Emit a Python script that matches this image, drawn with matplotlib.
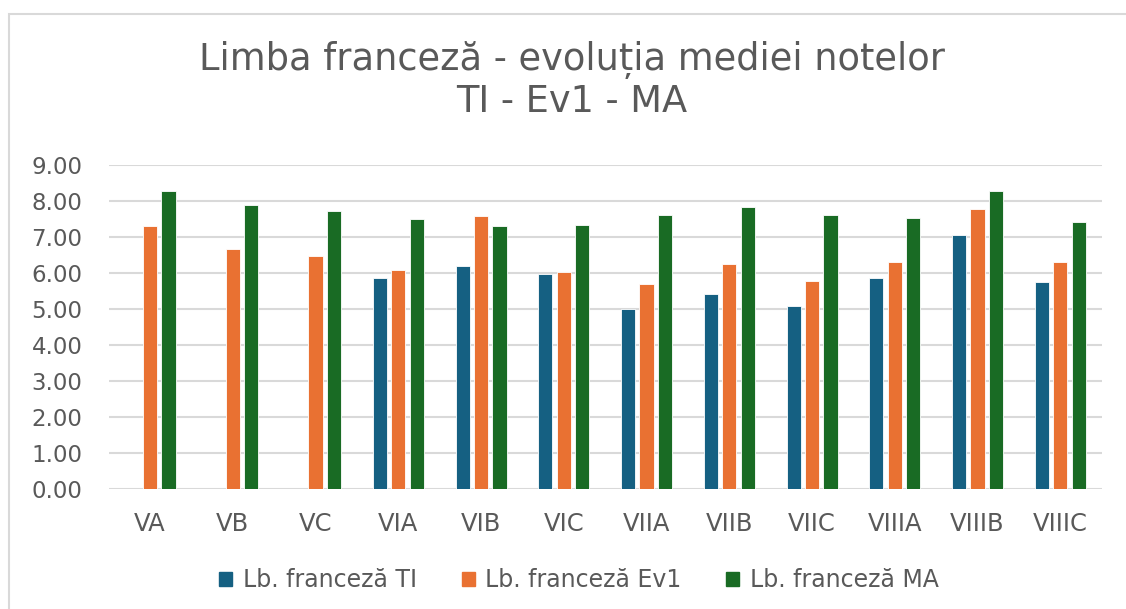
import matplotlib
matplotlib.use("Agg")
import matplotlib.pyplot as plt
import numpy as np
from matplotlib.patches import Rectangle

categories = ["VA", "VB", "VC", "VIA", "VIB", "VIC", "VIIA", "VIIB", "VIIC", "VIIIA", "VIIIB", "VIIIC"]
ti  = [np.nan, np.nan, np.nan, 5.86, 6.19, 5.97, 5.00, 5.42, 5.08, 5.86, 7.06, 5.75]
ev1 = [7.31, 6.68, 6.49, 6.08, 7.60, 6.04, 5.71, 6.27, 5.79, 6.31, 7.80, 6.31]
ma  = [8.28, 7.91, 7.72, 7.50, 7.31, 7.35, 7.61, 7.83, 7.61, 7.54, 8.28, 7.43]
series_names = ["Lb. franceză TI", "Lb. franceză Ev1", "Lb. franceză MA"]
colors = ["#156082", "#E97132", "#196B24"]
title_lines = ["Limba franceză - evoluția mediei notelor", "TI - Ev1 - MA"]
yticks = [0, 1, 2, 3, 4, 5, 6, 7, 8, 9]

plt.rcParams['font.family'] = ['DejaVu Sans']
text_color = "#595959"

fig = plt.figure(figsize=(11.26, 6.09), dpi=100)
W, H = 1126, 609
ax = fig.add_axes([108.7 / W, 1 - 489.3 / H, (1101.7 - 108.7) / W, (489.3 - 165.3) / H])

# chart border
fig.add_artist(Rectangle((9 / W, -0.1), 1.2, 1 - 14 / H + 0.1, transform=fig.transFigure,
                         fill=False, edgecolor="#D9D9D9", linewidth=1.5))

x = np.arange(len(categories))
step = 0.223
width = 0.172
for i, (vals, col, name) in enumerate(zip([ti, ev1, ma], colors, series_names)):
    ax.bar(x + (i - 1) * step, vals, width=width, color=col, edgecolor="white",
           linewidth=0.6, label=name, zorder=3)

ax.set_xlim(-0.5, len(categories) - 0.5)
ax.set_ylim(0, 9)
ax.set_yticks(yticks)
ax.set_yticklabels([f"{v:.2f}" for v in yticks])
ax.set_xticks(x)
ax.set_xticklabels(categories)
ax.yaxis.grid(True, color="#D9D9D9", linewidth=1.5, zorder=0)
ax.set_axisbelow(True)
for s in ax.spines.values():
    s.set_visible(False)
ax.tick_params(axis="y", length=0, labelsize=16.5, colors=text_color, pad=19)
ax.tick_params(axis="x", length=0, labelsize=17.5, colors=text_color, pad=16.5)

for line, yb in zip(title_lines, [70, 112]):
    fig.text(572 / W, 1 - yb / H, line, ha="center", va="baseline", fontsize=26.5,
             color=text_color)

handles = [Rectangle((0, 0), 1, 1, color=c) for c in colors]
fig.legend(handles, series_names, loc="center", bbox_to_anchor=(579 / W, 1 - 580 / H),
           ncol=3, frameon=False, fontsize=17, labelcolor=text_color,
           handlelength=0.55, handleheight=0.55, handletextpad=0.45, columnspacing=1.9)

fig.savefig("out.png", dpi=100)
